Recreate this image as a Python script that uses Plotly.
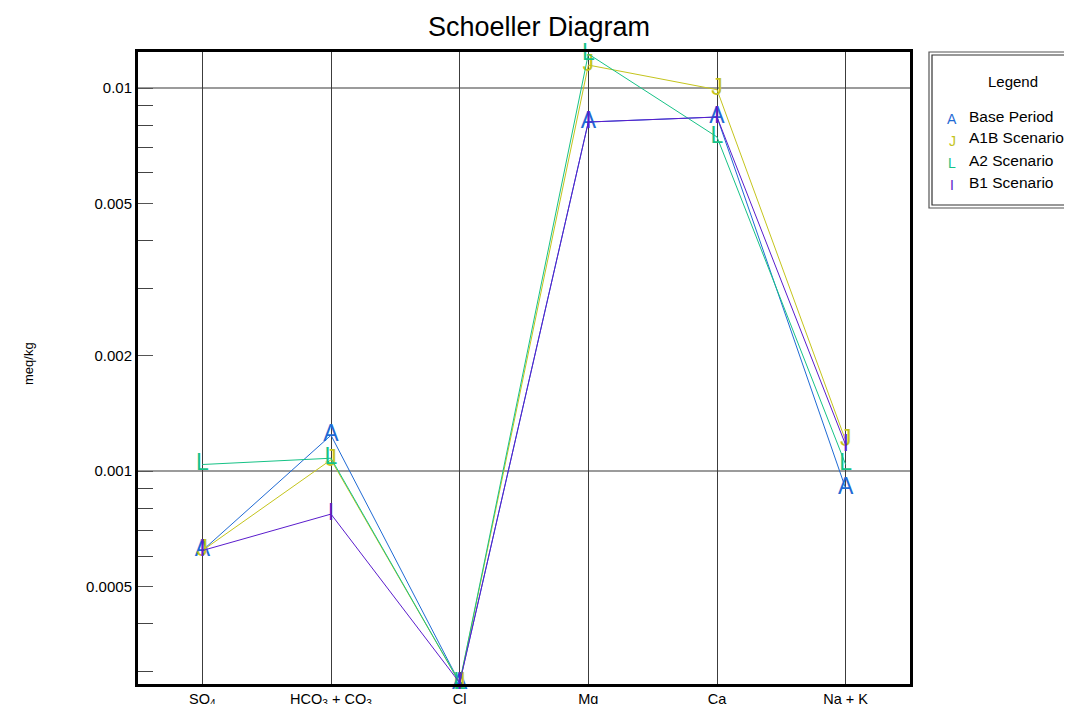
import plotly.graph_objects as go

# ---- data ----
categories = ["SO<sub>4</sub>", "HCO<sub>3</sub> + CO<sub>3</sub>", "Cl", "Mg", "Ca", "Na + K"]
series_names = ["Base Period", "A1B Scenario", "A2 Scenario", "B1 Scenario"]
series_letters = ["A", "J", "L", "I"]
series_colors = ["#1f6ad4", "#c4c41c", "#16c286", "#5a1ccc"]

base_period = [0.00062, 0.00124, 0.00028, 0.00815, 0.0084, 0.00090]
a1b_scenario = [0.00062, 0.00107, 0.00028, 0.01148, 0.0099, 0.00120]
a2_scenario = [0.00104, 0.00108, 0.00028, 0.01227, 0.00745, 0.00104]
b1_scenario = [0.00062, 0.000772, 0.00028, 0.00815, 0.0084, 0.00117]
series_values = [base_period, a1b_scenario, a2_scenario, b1_scenario]

y_major_ticks = [0.0005, 0.001, 0.002, 0.005, 0.01]
y_major_labels = ["0.0005", "0.001", "0.002", "0.005", "0.01"]
y_minor_ticks = [0.0003, 0.0004, 0.0006, 0.0007, 0.0008, 0.0009,
                 0.003, 0.004, 0.006, 0.007, 0.008, 0.009]
y_gridlines = [0.001, 0.01]

FONT = "Arial, Liberation Sans, sans-serif"

# page offset (body margin) is 8px; plot area in page px: x 138..910, y 52..684
FIG_W, FIG_H = 1064, 696

def px_x(p):
    return (p - 138) / 772

def px_y(p):
    return (684 - p) / 632

fig = go.Figure()
xs = list(range(len(categories)))
for name, letter, color, vals in zip(series_names, series_letters, series_colors, series_values):
    fig.add_trace(go.Scatter(
        x=xs, y=vals, name=name,
        mode="lines+text",
        text=[letter] * len(vals),
        textposition="middle center",
        textfont=dict(family=FONT, size=23, color=color),
        line=dict(color=color, width=1),
        cliponaxis=False,
        showlegend=False,
        hoverinfo="skip",
    ))

# horizontal gridlines at decades
for gv in y_gridlines:
    fig.add_shape(type="line", xref="paper", yref="y", x0=0, x1=1, y0=gv, y1=gv,
                  line=dict(color="#7a7a7a", width=1.5), layer="below")

# legend box (manual)
fig.add_shape(type="rect", xref="paper", yref="paper", x0=px_x(929), x1=px_x(1075), y0=px_y(208), y1=px_y(52),
              line=dict(color="#555555", width=1.2), fillcolor="white", layer="below")
fig.add_shape(type="rect", xref="paper", yref="paper", x0=px_x(932), x1=px_x(1075), y0=px_y(205), y1=px_y(55),
              line=dict(color="#333333", width=1.2), layer="below")
fig.add_annotation(xref="paper", yref="paper", x=px_x(1013), y=px_y(81),
                   text="Legend", showarrow=False, font=dict(family=FONT, size=15, color="black"),
                   xanchor="center", yanchor="middle")
row_y = [116, 138, 160, 182]
for name, letter, color, ry in zip(series_names, series_letters, series_colors, row_y):
    fig.add_annotation(xref="paper", yref="paper", x=px_x(952), y=px_y(ry + 3),
                       text=letter, showarrow=False, font=dict(family=FONT, size=14, color=color),
                       xanchor="center", yanchor="middle")
    fig.add_annotation(xref="paper", yref="paper", x=px_x(967), y=px_y(ry),
                       text=name, showarrow=False, font=dict(family=FONT, size=15.5, color="black"),
                       xanchor="left", yanchor="middle")

# y axis title
fig.add_annotation(xref="paper", yref="paper", x=px_x(28), y=px_y(364),
                   text="meq/kg", textangle=-90, showarrow=False,
                   font=dict(family=FONT, size=13, color="black"),
                   xanchor="center", yanchor="middle")

fig.update_layout(
    width=FIG_W, height=FIG_H,
    margin=dict(l=130, r=FIG_W - (910 - 8), t=44, b=FIG_H - (684 - 8)),
    paper_bgcolor="white", plot_bgcolor="white",
    title=dict(text="Schoeller Diagram", x=(539 - 8) / FIG_W, xref="container", xanchor="center",
               y=(FIG_H - 19) / FIG_H, yref="container", yanchor="middle",
               font=dict(family=FONT, size=27, color="black")),
    font=dict(family=FONT, color="black"),
    showlegend=False,
)
fig.update_xaxes(
    range=[-0.5, 5.5],
    tickmode="array", tickvals=xs, ticktext=categories,
    ticks="", showgrid=True, gridcolor="#3c3c3c", gridwidth=1,
    showline=True, linecolor="black", linewidth=3, mirror=True,
    tickfont=dict(family=FONT, size=14.5, color="black"),
    zeroline=False, automargin=False, fixedrange=True,
)
fig.update_yaxes(
    type="log", range=[-3.556, -1.906],
    tickmode="array", tickvals=y_major_ticks, ticktext=y_major_labels,
    ticks="inside", ticklen=15, tickcolor="#555555", tickwidth=1.3,
    showgrid=False,
    minor=dict(tickmode="array", tickvals=y_minor_ticks, ticks="inside", ticklen=15,
               tickcolor="#444444", tickwidth=1.3, showgrid=False),
    showline=True, linecolor="black", linewidth=3, mirror=True,
    tickfont=dict(family=FONT, size=15, color="black"),
    zeroline=False, automargin=False, fixedrange=True,
)

fig.write_html("out.html")
